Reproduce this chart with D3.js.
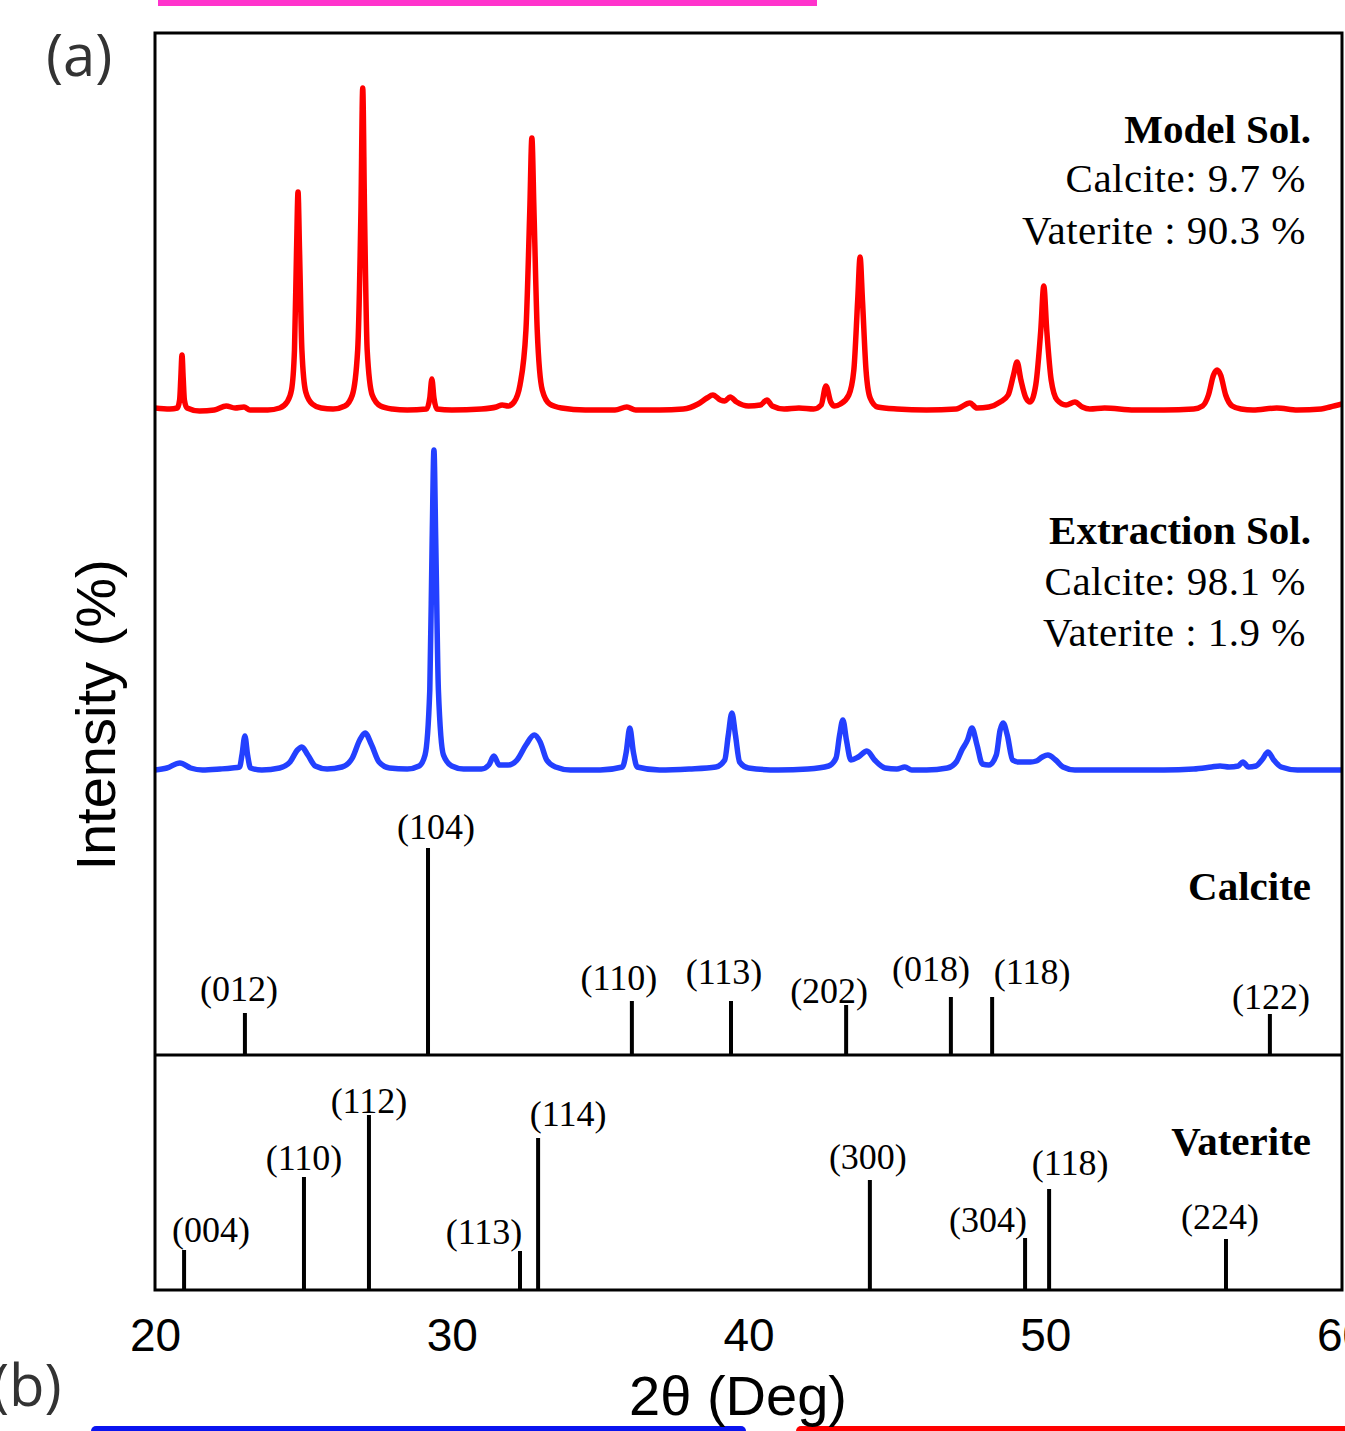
<!DOCTYPE html>
<meta charset="utf-8">
<style>
  body { margin: 0; background: #fff; }
  svg { display: block; }
</style>
<body>
<script src="https://cdnjs.cloudflare.com/ajax/libs/d3/7.8.5/d3.min.js"></script>
<script>

var width = 1345,
    height = 1431;

// measured patterns: [2theta, intensity above own baseline]
var modelSol = [
  [20.0, 2], [20.5, 1], [20.75, 2], [20.83, 10], [20.87, 32], [20.91, 55], [20.95, 32], [20.99, 10], [21.08, 2],
  [21.5, -1], [22.0, 0], [22.4, 4], [22.7, 2], [23.0, 3], [23.2, 0], [23.8, 0], [24.2, 2], [24.45, 8],
  [24.6, 20], [24.7, 60], [24.77, 160], [24.82, 218], [24.87, 160], [24.95, 60], [25.08, 18], [25.3, 6],
  [25.6, 2], [26.0, 1], [26.4, 4], [26.65, 15], [26.83, 60], [26.94, 200], [27.0, 322], [27.06, 200],
  [27.15, 60], [27.32, 15], [27.6, 4], [28.0, 1], [28.5, 0], [29.15, 1], [29.26, 12], [29.33, 31],
  [29.4, 12], [29.5, 1], [30.0, 0], [31.0, 1], [31.5, 3], [31.7, 5], [31.9, 4], [32.1, 8], [32.3, 25],
  [32.5, 80], [32.63, 200], [32.7, 272], [32.77, 200], [32.88, 80], [33.05, 20], [33.3, 6], [33.7, 2],
  [34.5, 0], [35.5, 0], [35.9, 3], [36.2, 0], [37.0, 0], [37.8, 1], [38.3, 6], [38.6, 12], [38.8, 15],
  [39.05, 10], [39.2, 9], [39.38, 13], [39.6, 8], [40.0, 4], [40.4, 5], [40.62, 10], [40.8, 4], [41.2, 1],
  [41.7, 2], [42.2, 1], [42.45, 5], [42.61, 24], [42.77, 8], [42.9, 4], [43.1, 6], [43.38, 15], [43.55, 40],
  [43.68, 110], [43.76, 153], [43.84, 110], [43.96, 40], [44.1, 12], [44.35, 3], [45.0, 1], [46.0, 0],
  [47.0, 1], [47.46, 7], [47.7, 2], [48.1, 3], [48.48, 8], [48.75, 15], [48.93, 35], [49.05, 48],
  [49.18, 30], [49.35, 12], [49.49, 8], [49.68, 25], [49.85, 80], [49.95, 124], [50.05, 80], [50.2, 30],
  [50.4, 10], [50.7, 5], [51.0, 8], [51.25, 3], [51.5, 1], [52.0, 2], [53.0, 0], [54.0, 0], [55.0, 1],
  [55.3, 4], [55.5, 15], [55.67, 35], [55.79, 40], [55.91, 35], [56.08, 15], [56.3, 4], [56.6, 1],
  [57.0, 0], [57.8, 2], [58.5, 0], [59.3, 1], [59.6, 3], [60.0, 6]
];

var extractionSol = [
  [20.0, 0], [20.4, 2], [20.84, 7], [21.2, 2], [21.6, 0], [22.2, 1], [22.6, 2], [22.85, 3], [22.93, 15],
  [23.03, 34], [23.12, 15], [23.22, 2], [23.6, 0], [24.2, 2], [24.55, 8], [24.8, 20], [24.95, 23],
  [25.15, 15], [25.4, 4], [25.8, 1], [26.3, 3], [26.65, 12], [26.9, 30], [27.08, 37], [27.3, 25],
  [27.55, 8], [27.9, 2], [28.5, 1], [28.9, 4], [29.1, 15], [29.26, 80], [29.34, 230], [29.4, 320],
  [29.46, 230], [29.55, 80], [29.72, 15], [30.0, 4], [30.4, 1], [31.0, 1], [31.25, 5], [31.42, 14],
  [31.6, 5], [31.9, 5], [32.2, 10], [32.5, 25], [32.78, 35], [32.98, 28], [33.2, 10], [33.5, 3],
  [34.0, 0], [35.0, 0], [35.75, 3], [35.88, 18], [36.0, 42], [36.12, 18], [36.25, 3], [37.0, 0],
  [38.0, 1], [38.9, 3], [39.2, 10], [39.32, 35], [39.44, 57], [39.56, 35], [39.7, 8], [40.0, 2],
  [41.0, 0], [42.0, 1], [42.7, 4], [42.95, 12], [43.07, 35], [43.18, 50], [43.3, 30], [43.45, 10],
  [43.7, 13], [43.99, 19], [44.25, 10], [44.6, 2], [45.0, 1], [45.27, 3], [45.5, 0], [46.0, 0],
  [46.7, 2], [47.0, 8], [47.19, 20], [47.38, 30], [47.53, 42], [47.7, 25], [47.88, 6], [48.1, 5],
  [48.35, 15], [48.48, 40], [48.58, 47], [48.72, 35], [48.9, 10], [49.1, 8], [49.5, 8], [49.7, 9],
  [49.9, 13], [50.09, 15], [50.35, 10], [50.6, 3], [51.0, 0], [52.0, 0], [53.0, 0], [54.0, 0],
  [55.0, 1], [55.6, 3], [55.89, 4], [56.2, 3], [56.5, 4], [56.66, 8], [56.85, 3], [57.1, 4],
  [57.3, 10], [57.51, 18], [57.7, 10], [57.95, 3], [58.5, 0], [59.3, 0], [60.0, 0]
];

// reference sticks: [hkl, 2theta, intensity]
var calcite = [
  ["(012)", 23.03, 42], ["(104)", 29.2, 207], ["(110)", 36.07, 54], ["(113)", 39.41, 54],
  ["(202)", 43.29, 50], ["(018)", 46.82, 58], ["(118)", 48.21, 58], ["(122)", 57.57, 41]
];
var vaterite = [
  ["(004)", 20.98, 40], ["(110)", 25.02, 113], ["(112)", 27.21, 175], ["(113)", 32.3, 39],
  ["(114)", 32.91, 152], ["(300)", 44.09, 110], ["(304)", 49.32, 52], ["(118)", 50.13, 101],
  ["(224)", 56.09, 51]
];

var modelNotes = ["Model Sol.", "Calcite: 9.7 %", "Vaterite : 90.3 %"];
var extractNotes = ["Extraction Sol.", "Calcite: 98.1 %", "Vaterite : 1.9 %"];
var xTicks = [20, 30, 40, 50, 60];

// label nudges [dx, rise above stick top], layout only
var calciteLabelPos = [[-6, 25], [8, 22], [-13, 24], [-7, 30], [-17, 15], [-20, 29], [40, 26], [1, 18]];
var vateriteLabelPos = [[27, 21], [0, 20], [0, 15], [-36, 20], [30, 25], [-2, 24], [-37, 19], [21, 27], [-6, 23]];

var plotLeft = 155, plotRight = 1342, plotTop = 33, plotSplit = 1055, plotBottom = 1290;

var x = d3.scaleLinear().domain([20, 60]).range([plotLeft, plotRight]);
var yTop = d3.scaleLinear().domain([0, plotSplit - plotTop]).range([plotSplit, plotTop]);
var yBot = d3.scaleLinear().domain([0, plotBottom - plotSplit]).range([plotBottom, plotSplit]);

var svg = d3.select("body").append("svg")
    .attr("width", width)
    .attr("height", height);

// bits of the neighbouring panels
svg.append("line").attr("x1", 158).attr("x2", 817).attr("y1", 3).attr("y2", 3)
    .attr("stroke", "#ff33cc").attr("stroke-width", 6);
svg.append("line").attr("x1", 96).attr("x2", 741).attr("y1", 1431).attr("y2", 1431)
    .attr("stroke", "#0a14f0").attr("stroke-width", 10).attr("stroke-linecap", "round");
svg.append("line").attr("x1", 801).attr("x2", 1360).attr("y1", 1431).attr("y2", 1431)
    .attr("stroke", "#ff0000").attr("stroke-width", 10).attr("stroke-linecap", "round");

svg.append("text").attr("x", 46).attr("y", 76).text("(a)")
    .style("font-family", "Open Sans").style("font-size", "58px").style("fill", "#333");
svg.append("text").attr("x", -8).attr("y", 1406).text("(b)")
    .style("font-family", "Open Sans").style("font-size", "58px").style("fill", "#333");

svg.append("clipPath").attr("id", "plot")
  .append("rect").attr("x", plotLeft).attr("y", plotTop)
    .attr("width", plotRight - plotLeft).attr("height", plotBottom - plotTop);

var line = function(offset) {
  return d3.line()
    .x(function(d) { return x(d[0]); })
    .y(function(d) { return yTop(d[1] + offset); })
    .curve(d3.curveMonotoneX);
};

var g = svg.append("g").attr("clip-path", "url(#plot)");

g.append("path").datum(modelSol)
    .attr("d", line(645))
    .attr("fill", "none").attr("stroke", "#ff0000").attr("stroke-width", 5.5)
    .attr("stroke-linejoin", "round");
g.append("path").datum(extractionSol)
    .attr("d", line(285))
    .attr("fill", "none").attr("stroke", "#2340ff").attr("stroke-width", 5.5)
    .attr("stroke-linejoin", "round");

function sticks(data, pos, y) {
  g.selectAll(null).data(data).enter().append("line")
      .attr("x1", function(d) { return x(d[1]); })
      .attr("x2", function(d) { return x(d[1]); })
      .attr("y1", y(0))
      .attr("y2", function(d) { return y(d[2]); })
      .attr("stroke", "#000").attr("stroke-width", 4);
  svg.selectAll(null).data(data).enter().append("text")
      .attr("x", function(d, i) { return x(d[1]) + pos[i][0]; })
      .attr("y", function(d, i) { return y(d[2]) - pos[i][1]; })
      .attr("dy", "0.35em")
      .attr("text-anchor", "middle")
      .style("font-family", "Liberation Serif").style("font-size", "36px")
      .text(function(d) { return d[0]; });
}
sticks(calcite, calciteLabelPos, yTop);
sticks(vaterite, vateriteLabelPos, yBot);

function notes(lines, ys) {
  svg.selectAll(null).data(lines).enter().append("text")
      .attr("x", function(d, i) { return i == 0 ? 1311 : 1306; })
      .attr("y", function(d, i) { return ys[i]; })
      .attr("text-anchor", "end")
      .style("font-family", "Liberation Serif").style("font-size", "41px")
      .style("letter-spacing", function(d, i) { return i == 0 ? "0px" : "0.5px"; })
      .style("font-weight", function(d, i) { return i == 0 ? "bold" : "normal"; })
      .text(function(d) { return d; });
}
notes(modelNotes, [143, 192, 244]);
notes(extractNotes, [544, 595, 646]);
notes(["Calcite"], [900]);
notes(["Vaterite"], [1155]);

// frame and divider
svg.append("rect").attr("x", plotLeft).attr("y", plotTop)
    .attr("width", plotRight - plotLeft).attr("height", plotBottom - plotTop)
    .attr("fill", "none").attr("stroke", "#000").attr("stroke-width", 3);
svg.append("line").attr("x1", plotLeft).attr("x2", plotRight).attr("y1", plotSplit).attr("y2", plotSplit)
    .attr("stroke", "#000").attr("stroke-width", 3);

var xAxis = svg.append("g")
    .attr("transform", "translate(0," + plotBottom + ")")
    .call(d3.axisBottom(x).tickValues(xTicks).tickSize(0).tickPadding(28));
xAxis.select(".domain").remove();
xAxis.selectAll("text")
    .style("font-family", "Liberation Sans").style("font-size", "46px").attr("fill", "#000");

svg.append("text").attr("x", 738).attr("y", 1415).attr("text-anchor", "middle")
    .style("font-family", "Liberation Sans").style("font-size", "56px")
    .text("2θ (Deg)");

svg.append("text")
    .attr("transform", "translate(115,715) rotate(-90)")
    .attr("text-anchor", "middle")
    .style("font-family", "Liberation Sans").style("font-size", "56px")
    .text("Intensity (%)");

</script>
